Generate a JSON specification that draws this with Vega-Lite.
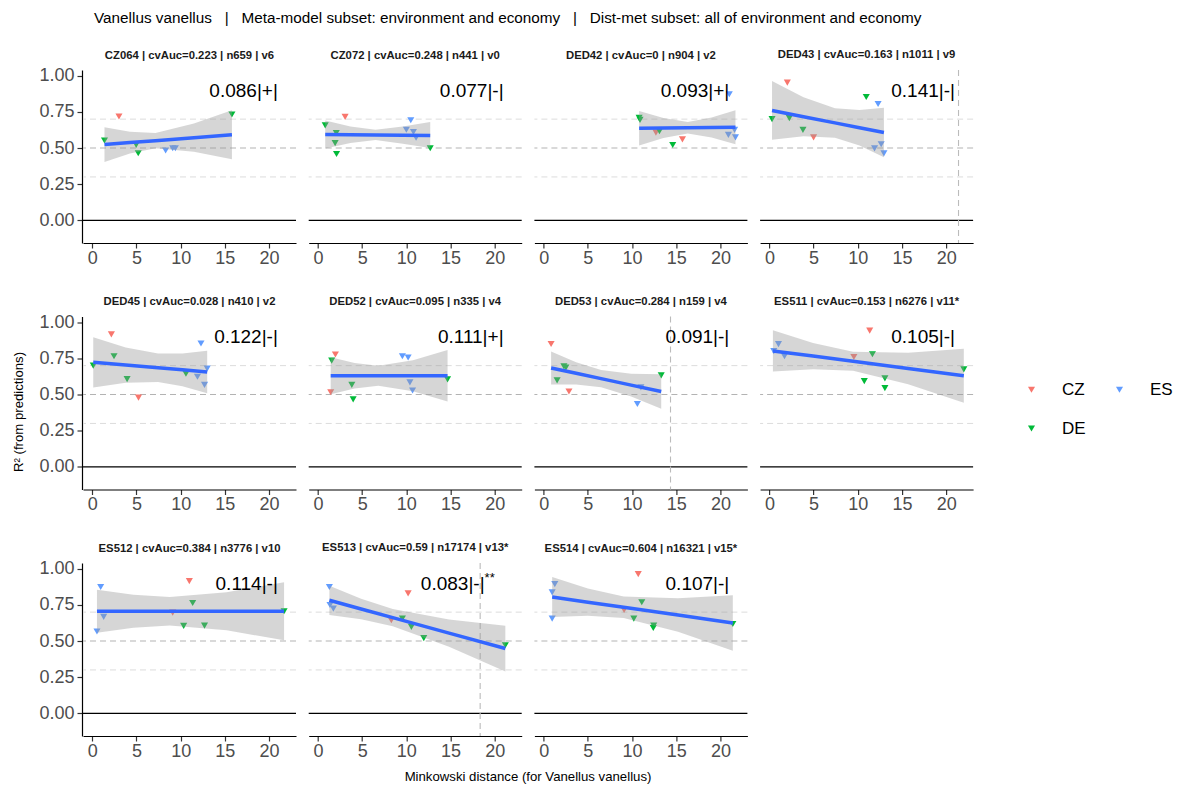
{
 "$schema": "https://vega.github.io/schema/vega-lite/v6.json",
 "padding": {"left": 11, "top": 10, "right": 5, "bottom": 5},
 "title": {"text": "Vanellus vanellus \u00a0\u00a0|\u00a0\u00a0 Meta-model subset: environment and economy \u00a0\u00a0|\u00a0\u00a0 Dist-met subset: all of environment and economy", "anchor": "start", "dx": 83, "fontSize": 15.3, "fontWeight": "normal", "color": "black", "offset": 23},
 "config": {
  "font": "Liberation Sans",
  "view": {"stroke": null},
  "axis": {"grid": false, "domainColor": "black", "domainWidth": 1.2, "tickColor": "#333333", "tickWidth": 1.2, "tickSize": 5, "labelColor": "#4D4D4D", "labelFontSize": 18, "labelFont": "Liberation Sans", "titleFont": "Liberation Sans"},
  "header": {"labelFont": "Liberation Sans", "titleFont": "Liberation Sans"},
  "legend": {"labelFont": "Liberation Sans"},
  "title": {"font": "Liberation Sans"}
 },
 "datasets": {
  "panels": [
   {"id": 1, "p": "CZ064 | cvAuc=0.223 | n659 | v6"},
   {"id": 2, "p": "CZ072 | cvAuc=0.248 | n441 | v0"},
   {"id": 3, "p": "DED42 | cvAuc=0 | n904 | v2"},
   {"id": 4, "p": "DED43 | cvAuc=0.163 | n1011 | v9"},
   {"id": 5, "p": "DED45 | cvAuc=0.028 | n410 | v2"},
   {"id": 6, "p": "DED52 | cvAuc=0.095 | n335 | v4"},
   {"id": 7, "p": "DED53 | cvAuc=0.284 | n159 | v4"},
   {"id": 8, "p": "ES511 | cvAuc=0.153 | n6276 | v11*"},
   {"id": 9, "p": "ES512 | cvAuc=0.384 | n3776 | v10"},
   {"id": 10, "p": "ES513 | cvAuc=0.59 | n17174 | v13*"},
   {"id": 11, "p": "ES514 | cvAuc=0.604 | n16321 | v15*"}
  ],
  "main": [
   {"id": 1, "k": "ann", "t": "0.086|+|"},
   {"id": 2, "k": "ann", "t": "0.077|-|"},
   {"id": 3, "k": "ann", "t": "0.093|+|"},
   {"id": 4, "k": "ann", "t": "0.141|-|", "v": 21.4},
   {"id": 5, "k": "ann", "t": "0.122|-|"},
   {"id": 6, "k": "ann", "t": "0.111|+|"},
   {"id": 7, "k": "ann", "t": "0.091|-|", "v": 14.35},
   {"id": 8, "k": "ann", "t": "0.105|-|"},
   {"id": 9, "k": "ann", "t": "0.114|-|"},
   {"id": 10, "k": "ann", "t": "0.083|-|", "s": "**", "v": 18.35},
   {"id": 11, "k": "ann", "t": "0.107|-|"},

   {"id": 1, "k": "pt", "x": 1.38, "y": 0.552, "c": "DE"},
   {"id": 1, "k": "pt", "x": 3.02, "y": 0.718, "c": "CZ"},
   {"id": 1, "k": "pt", "x": 4.97, "y": 0.522, "c": "DE"},
   {"id": 1, "k": "pt", "x": 5.2, "y": 0.464, "c": "DE"},
   {"id": 1, "k": "pt", "x": 8.3, "y": 0.483, "c": "ES"},
   {"id": 1, "k": "pt", "x": 9.1, "y": 0.499, "c": "ES"},
   {"id": 1, "k": "pt", "x": 9.4, "y": 0.499, "c": "ES"},
   {"id": 1, "k": "pt", "x": 15.8, "y": 0.732, "c": "DE"},

   {"id": 2, "k": "pt", "x": 0.82, "y": 0.657, "c": "DE"},
   {"id": 2, "k": "pt", "x": 3.07, "y": 0.716, "c": "CZ"},
   {"id": 2, "k": "pt", "x": 2.07, "y": 0.604, "c": "DE"},
   {"id": 2, "k": "pt", "x": 1.94, "y": 0.534, "c": "DE"},
   {"id": 2, "k": "pt", "x": 2.1, "y": 0.459, "c": "DE"},
   {"id": 2, "k": "pt", "x": 10.5, "y": 0.692, "c": "ES"},
   {"id": 2, "k": "pt", "x": 10.0, "y": 0.627, "c": "ES"},
   {"id": 2, "k": "pt", "x": 10.8, "y": 0.611, "c": "ES"},
   {"id": 2, "k": "pt", "x": 11.1, "y": 0.571, "c": "ES"},
   {"id": 2, "k": "pt", "x": 12.7, "y": 0.499, "c": "DE"},

   {"id": 3, "k": "pt", "x": 10.8, "y": 0.709, "c": "DE"},
   {"id": 3, "k": "pt", "x": 10.9, "y": 0.695, "c": "DE"},
   {"id": 3, "k": "pt", "x": 12.7, "y": 0.607, "c": "CZ"},
   {"id": 3, "k": "pt", "x": 13.1, "y": 0.616, "c": "DE"},
   {"id": 3, "k": "pt", "x": 14.6, "y": 0.521, "c": "DE"},
   {"id": 3, "k": "pt", "x": 15.7, "y": 0.56, "c": "CZ"},
   {"id": 3, "k": "pt", "x": 21.0, "y": 0.872, "c": "ES"},
   {"id": 3, "k": "pt", "x": 21.6, "y": 0.626, "c": "ES"},
   {"id": 3, "k": "pt", "x": 20.9, "y": 0.591, "c": "ES"},
   {"id": 3, "k": "pt", "x": 21.7, "y": 0.574, "c": "ES"},

   {"id": 4, "k": "pt", "x": 2.03, "y": 0.953, "c": "CZ"},
   {"id": 4, "k": "pt", "x": 0.3, "y": 0.7, "c": "DE"},
   {"id": 4, "k": "pt", "x": 2.26, "y": 0.707, "c": "DE"},
   {"id": 4, "k": "pt", "x": 3.8, "y": 0.626, "c": "DE"},
   {"id": 4, "k": "pt", "x": 5.0, "y": 0.574, "c": "CZ"},
   {"id": 4, "k": "pt", "x": 10.96, "y": 0.853, "c": "DE"},
   {"id": 4, "k": "pt", "x": 12.3, "y": 0.805, "c": "ES"},
   {"id": 4, "k": "pt", "x": 12.65, "y": 0.526, "c": "ES"},
   {"id": 4, "k": "pt", "x": 11.9, "y": 0.498, "c": "ES"},
   {"id": 4, "k": "pt", "x": 12.96, "y": 0.463, "c": "ES"},

   {"id": 5, "k": "pt", "x": 0.11, "y": 0.7, "c": "DE"},
   {"id": 5, "k": "pt", "x": 2.16, "y": 0.916, "c": "CZ"},
   {"id": 5, "k": "pt", "x": 2.46, "y": 0.765, "c": "DE"},
   {"id": 5, "k": "pt", "x": 3.94, "y": 0.607, "c": "DE"},
   {"id": 5, "k": "pt", "x": 5.23, "y": 0.479, "c": "CZ"},
   {"id": 5, "k": "pt", "x": 10.6, "y": 0.644, "c": "DE"},
   {"id": 5, "k": "pt", "x": 11.9, "y": 0.623, "c": "ES"},
   {"id": 5, "k": "pt", "x": 12.3, "y": 0.853, "c": "ES"},
   {"id": 5, "k": "pt", "x": 13.0, "y": 0.679, "c": "ES"},
   {"id": 5, "k": "pt", "x": 12.7, "y": 0.567, "c": "ES"},

   {"id": 6, "k": "pt", "x": 1.97, "y": 0.777, "c": "CZ"},
   {"id": 6, "k": "pt", "x": 1.55, "y": 0.735, "c": "DE"},
   {"id": 6, "k": "pt", "x": 1.44, "y": 0.516, "c": "CZ"},
   {"id": 6, "k": "pt", "x": 3.83, "y": 0.567, "c": "DE"},
   {"id": 6, "k": "pt", "x": 3.98, "y": 0.467, "c": "DE"},
   {"id": 6, "k": "pt", "x": 9.55, "y": 0.765, "c": "ES"},
   {"id": 6, "k": "pt", "x": 10.2, "y": 0.756, "c": "ES"},
   {"id": 6, "k": "pt", "x": 10.4, "y": 0.584, "c": "ES"},
   {"id": 6, "k": "pt", "x": 10.7, "y": 0.528, "c": "ES"},
   {"id": 6, "k": "pt", "x": 14.66, "y": 0.605, "c": "DE"},

   {"id": 7, "k": "pt", "x": 0.84, "y": 0.85, "c": "CZ"},
   {"id": 7, "k": "pt", "x": 2.29, "y": 0.695, "c": "DE"},
   {"id": 7, "k": "pt", "x": 2.51, "y": 0.686, "c": "DE"},
   {"id": 7, "k": "pt", "x": 1.52, "y": 0.598, "c": "DE"},
   {"id": 7, "k": "pt", "x": 2.86, "y": 0.521, "c": "CZ"},
   {"id": 7, "k": "pt", "x": 10.6, "y": 0.435, "c": "ES"},
   {"id": 7, "k": "pt", "x": 11.0, "y": 0.55, "c": "ES"},
   {"id": 7, "k": "pt", "x": 13.3, "y": 0.633, "c": "DE"},

   {"id": 8, "k": "pt", "x": 1.03, "y": 0.849, "c": "ES"},
   {"id": 8, "k": "pt", "x": 0.5, "y": 0.8, "c": "ES"},
   {"id": 8, "k": "pt", "x": 1.71, "y": 0.765, "c": "ES"},
   {"id": 8, "k": "pt", "x": 9.56, "y": 0.76, "c": "CZ"},
   {"id": 8, "k": "pt", "x": 11.35, "y": 0.942, "c": "CZ"},
   {"id": 8, "k": "pt", "x": 11.66, "y": 0.779, "c": "DE"},
   {"id": 8, "k": "pt", "x": 10.74, "y": 0.593, "c": "DE"},
   {"id": 8, "k": "pt", "x": 13.07, "y": 0.612, "c": "DE"},
   {"id": 8, "k": "pt", "x": 13.07, "y": 0.544, "c": "DE"},
   {"id": 8, "k": "pt", "x": 22.0, "y": 0.674, "c": "DE"},

   {"id": 9, "k": "pt", "x": 0.95, "y": 0.874, "c": "ES"},
   {"id": 9, "k": "pt", "x": 1.29, "y": 0.667, "c": "ES"},
   {"id": 9, "k": "pt", "x": 0.53, "y": 0.566, "c": "ES"},
   {"id": 9, "k": "pt", "x": 10.98, "y": 0.915, "c": "CZ"},
   {"id": 9, "k": "pt", "x": 9.1, "y": 0.697, "c": "CZ"},
   {"id": 9, "k": "pt", "x": 11.36, "y": 0.763, "c": "DE"},
   {"id": 9, "k": "pt", "x": 10.34, "y": 0.605, "c": "DE"},
   {"id": 9, "k": "pt", "x": 12.7, "y": 0.607, "c": "DE"},
   {"id": 9, "k": "pt", "x": 21.7, "y": 0.706, "c": "DE"},

   {"id": 10, "k": "pt", "x": 1.29, "y": 0.874, "c": "ES"},
   {"id": 10, "k": "pt", "x": 1.36, "y": 0.749, "c": "ES"},
   {"id": 10, "k": "pt", "x": 1.74, "y": 0.724, "c": "ES"},
   {"id": 10, "k": "pt", "x": 10.2, "y": 0.83, "c": "CZ"},
   {"id": 10, "k": "pt", "x": 8.3, "y": 0.644, "c": "CZ"},
   {"id": 10, "k": "pt", "x": 9.55, "y": 0.656, "c": "DE"},
   {"id": 10, "k": "pt", "x": 10.57, "y": 0.598, "c": "DE"},
   {"id": 10, "k": "pt", "x": 11.97, "y": 0.52, "c": "DE"},
   {"id": 10, "k": "pt", "x": 21.2, "y": 0.471, "c": "DE"},

   {"id": 11, "k": "pt", "x": 1.26, "y": 0.894, "c": "ES"},
   {"id": 11, "k": "pt", "x": 0.96, "y": 0.837, "c": "ES"},
   {"id": 11, "k": "pt", "x": 0.96, "y": 0.655, "c": "ES"},
   {"id": 11, "k": "pt", "x": 10.7, "y": 0.963, "c": "CZ"},
   {"id": 11, "k": "pt", "x": 9.1, "y": 0.715, "c": "CZ"},
   {"id": 11, "k": "pt", "x": 11.1, "y": 0.768, "c": "DE"},
   {"id": 11, "k": "pt", "x": 10.2, "y": 0.655, "c": "DE"},
   {"id": 11, "k": "pt", "x": 12.45, "y": 0.607, "c": "DE"},
   {"id": 11, "k": "pt", "x": 12.4, "y": 0.59, "c": "DE"},
   {"id": 11, "k": "pt", "x": 21.4, "y": 0.618, "c": "DE"},

   {"id": 1, "k": "band", "x": 1.38, "lo": 0.404, "fit": 0.524, "hi": 0.644},
   {"id": 1, "k": "band", "x": 4.26, "lo": 0.463, "fit": 0.538, "hi": 0.613},
   {"id": 1, "k": "band", "x": 7.15, "lo": 0.498, "fit": 0.551, "hi": 0.604},
   {"id": 1, "k": "band", "x": 11.5, "lo": 0.475, "fit": 0.572, "hi": 0.669},
   {"id": 1, "k": "band", "x": 15.8, "lo": 0.422, "fit": 0.592, "hi": 0.762},

   {"id": 2, "k": "band", "x": 0.82, "lo": 0.497, "fit": 0.594, "hi": 0.691},
   {"id": 2, "k": "band", "x": 3.67, "lo": 0.535, "fit": 0.592, "hi": 0.649},
   {"id": 2, "k": "band", "x": 6.51, "lo": 0.556, "fit": 0.591, "hi": 0.626},
   {"id": 2, "k": "band", "x": 9.6, "lo": 0.529, "fit": 0.589, "hi": 0.649},
   {"id": 2, "k": "band", "x": 12.7, "lo": 0.5, "fit": 0.587, "hi": 0.68},

   {"id": 3, "k": "band", "x": 10.8, "lo": 0.517, "fit": 0.637, "hi": 0.757},
   {"id": 3, "k": "band", "x": 13.55, "lo": 0.57, "fit": 0.639, "hi": 0.708},
   {"id": 3, "k": "band", "x": 16.3, "lo": 0.6, "fit": 0.64, "hi": 0.68},
   {"id": 3, "k": "band", "x": 19.0, "lo": 0.573, "fit": 0.642, "hi": 0.711},
   {"id": 3, "k": "band", "x": 21.7, "lo": 0.526, "fit": 0.644, "hi": 0.762},

   {"id": 4, "k": "band", "x": 0.3, "lo": 0.557, "fit": 0.76, "hi": 0.964},
   {"id": 4, "k": "band", "x": 3.86, "lo": 0.582, "fit": 0.717, "hi": 0.852},
   {"id": 4, "k": "band", "x": 7.42, "lo": 0.572, "fit": 0.674, "hi": 0.776},
   {"id": 4, "k": "band", "x": 10.2, "lo": 0.517, "fit": 0.64, "hi": 0.763},
   {"id": 4, "k": "band", "x": 12.96, "lo": 0.436, "fit": 0.607, "hi": 0.778},

   {"id": 5, "k": "band", "x": 0.11, "lo": 0.549, "fit": 0.723, "hi": 0.897},
   {"id": 5, "k": "band", "x": 3.78, "lo": 0.582, "fit": 0.704, "hi": 0.826},
   {"id": 5, "k": "band", "x": 7.44, "lo": 0.586, "fit": 0.685, "hi": 0.784},
   {"id": 5, "k": "band", "x": 10.2, "lo": 0.558, "fit": 0.671, "hi": 0.784},
   {"id": 5, "k": "band", "x": 13.0, "lo": 0.509, "fit": 0.656, "hi": 0.803},

   {"id": 6, "k": "band", "x": 1.44, "lo": 0.502, "fit": 0.63, "hi": 0.758},
   {"id": 6, "k": "band", "x": 4.14, "lo": 0.542, "fit": 0.63, "hi": 0.718},
   {"id": 6, "k": "band", "x": 6.83, "lo": 0.56, "fit": 0.63, "hi": 0.7},
   {"id": 6, "k": "band", "x": 10.75, "lo": 0.522, "fit": 0.63, "hi": 0.738},
   {"id": 6, "k": "band", "x": 14.66, "lo": 0.452, "fit": 0.63, "hi": 0.808},

   {"id": 7, "k": "band", "x": 0.84, "lo": 0.57, "fit": 0.684, "hi": 0.798},
   {"id": 7, "k": "band", "x": 3.67, "lo": 0.57, "fit": 0.647, "hi": 0.724},
   {"id": 7, "k": "band", "x": 6.5, "lo": 0.55, "fit": 0.61, "hi": 0.67},
   {"id": 7, "k": "band", "x": 9.9, "lo": 0.486, "fit": 0.565, "hi": 0.644},
   {"id": 7, "k": "band", "x": 13.3, "lo": 0.401, "fit": 0.521, "hi": 0.641},

   {"id": 8, "k": "band", "x": 0.4, "lo": 0.659, "fit": 0.802, "hi": 0.945},
   {"id": 8, "k": "band", "x": 4.94, "lo": 0.675, "fit": 0.766, "hi": 0.857},
   {"id": 8, "k": "band", "x": 9.47, "lo": 0.664, "fit": 0.73, "hi": 0.796},
   {"id": 8, "k": "band", "x": 15.7, "lo": 0.571, "fit": 0.68, "hi": 0.789},
   {"id": 8, "k": "band", "x": 22.0, "lo": 0.443, "fit": 0.63, "hi": 0.817},

   {"id": 9, "k": "band", "x": 0.53, "lo": 0.557, "fit": 0.706, "hi": 0.855},
   {"id": 9, "k": "band", "x": 4.65, "lo": 0.592, "fit": 0.706, "hi": 0.82},
   {"id": 9, "k": "band", "x": 8.77, "lo": 0.607, "fit": 0.706, "hi": 0.805},
   {"id": 9, "k": "band", "x": 15.2, "lo": 0.574, "fit": 0.706, "hi": 0.838},
   {"id": 9, "k": "band", "x": 21.7, "lo": 0.505, "fit": 0.706, "hi": 0.907},

   {"id": 10, "k": "band", "x": 1.29, "lo": 0.681, "fit": 0.782, "hi": 0.883},
   {"id": 10, "k": "band", "x": 4.88, "lo": 0.65, "fit": 0.722, "hi": 0.793},
   {"id": 10, "k": "band", "x": 8.46, "lo": 0.603, "fit": 0.662, "hi": 0.721},
   {"id": 10, "k": "band", "x": 14.83, "lo": 0.461, "fit": 0.555, "hi": 0.649},
   {"id": 10, "k": "band", "x": 21.2, "lo": 0.29, "fit": 0.448, "hi": 0.606},

   {"id": 11, "k": "band", "x": 0.96, "lo": 0.667, "fit": 0.805, "hi": 0.943},
   {"id": 11, "k": "band", "x": 5.0, "lo": 0.675, "fit": 0.769, "hi": 0.864},
   {"id": 11, "k": "band", "x": 9.05, "lo": 0.659, "fit": 0.734, "hi": 0.809},
   {"id": 11, "k": "band", "x": 15.2, "lo": 0.564, "fit": 0.68, "hi": 0.796},
   {"id": 11, "k": "band", "x": 21.4, "lo": 0.433, "fit": 0.625, "hi": 0.817}
  ]
 },
 "spacing": 9,
 "hconcat": [
  {
   "width": 1,
   "height": 683,
   "data": {"values": [{"d": 0}]},
   "mark": {"type": "point", "opacity": 0},
   "encoding": {
    "y": {"field": "d", "type": "quantitative", "axis": {"title": "R\u00b2 (from predictions)", "labels": false, "ticks": false, "domain": false, "grid": false, "titleFontSize": 13.2, "titleFontWeight": "normal", "titleColor": "black", "titlePadding": 0}}
   }
  },
  {
   "data": {"name": "main"},
   "transform": [{"lookup": "id", "from": {"data": {"name": "panels"}, "key": "id", "fields": ["p"]}}],
   "facet": {"field": "p", "type": "nominal", "header": {"title": "Minkowski distance (for Vanellus vanellus)", "titleOrient": "bottom", "titleFontSize": 13.2, "titleFontWeight": "normal", "titleColor": "black", "titlePadding": 11, "labelOrient": "top", "labelFontSize": 11.3, "labelFontWeight": "bold", "labelColor": "#1A1A1A", "labelPadding": 9}},
   "columns": 4,
   "spacing": {"row": 28.5, "column": 10.7},
   "resolve": {"axis": {"x": "independent"}},
   "spec": {
    "width": 213,
    "height": 173,
    "layer": [
     {
      "transform": [{"filter": "datum.k === 'ann'"}],
      "mark": {"type": "rule", "color": "#DCDCDC", "strokeDash": [6, 4], "strokeWidth": 1},
      "encoding": {"y": {"datum": 0.3, "type": "quantitative", "scale": {"domain": [-0.157, 1.04], "nice": false, "zero": false}, "axis": {"values": [0, 0.25, 0.5, 0.75, 1], "format": ".2f", "title": null, "labelPadding": 3}}}
     },
     {
      "transform": [{"filter": "datum.k === 'ann'"}],
      "mark": {"type": "rule", "color": "#DCDCDC", "strokeDash": [6, 4], "strokeWidth": 1},
      "encoding": {"y": {"datum": 0.7, "type": "quantitative", "scale": {"domain": [-0.157, 1.04], "nice": false, "zero": false}, "axis": {"values": [0, 0.25, 0.5, 0.75, 1], "format": ".2f", "title": null, "labelPadding": 3}}}
     },
     {
      "transform": [{"filter": "datum.k === 'ann'"}],
      "mark": {"type": "rule", "color": "#B3B3B3", "strokeDash": [6, 4], "strokeWidth": 1.1},
      "encoding": {"y": {"datum": 0.5, "type": "quantitative", "scale": {"domain": [-0.157, 1.04], "nice": false, "zero": false}, "axis": {"values": [0, 0.25, 0.5, 0.75, 1], "format": ".2f", "title": null, "labelPadding": 3}}}
     },
     {
      "transform": [{"filter": "datum.k === 'ann'"}],
      "mark": {"type": "rule", "color": "black", "strokeWidth": 1.3},
      "encoding": {"y": {"datum": 0, "type": "quantitative", "scale": {"domain": [-0.157, 1.04], "nice": false, "zero": false}, "axis": {"values": [0, 0.25, 0.5, 0.75, 1], "format": ".2f", "title": null, "labelPadding": 3}}}
     },
     {
      "transform": [{"filter": "datum.k === 'ann' && isValid(datum.v)"}],
      "mark": {"type": "rule", "color": "#BBBBBB", "strokeDash": [6, 4], "strokeWidth": 1.1},
      "encoding": {"x": {"field": "v", "type": "quantitative", "scale": {"domain": [-1.05, 23.05], "nice": false, "zero": false}, "axis": {"values": [0, 5, 10, 15, 20], "title": null, "labelPadding": 1}}}
     },
     {
      "transform": [{"filter": "datum.k === 'pt'"}],
      "mark": {"type": "point", "shape": "triangle-down", "filled": true, "size": 50, "opacity": 1},
      "encoding": {
       "x": {"field": "x", "type": "quantitative", "scale": {"domain": [-1.05, 23.05], "nice": false, "zero": false}, "axis": {"values": [0, 5, 10, 15, 20], "title": null, "labelPadding": 1}},
       "y": {"field": "y", "type": "quantitative", "scale": {"domain": [-0.157, 1.04], "nice": false, "zero": false}, "axis": {"values": [0, 0.25, 0.5, 0.75, 1], "format": ".2f", "title": null, "labelPadding": 3}},
       "color": {"field": "c", "type": "nominal", "scale": {"domain": ["CZ", "DE", "ES"], "range": ["#F8766D", "#00BA38", "#619CFF"]}, "legend": {"title": null, "orient": "none", "legendX": 998, "legendY": 311, "columns": 2, "symbolType": "triangle-down", "symbolSize": 50, "labelFontSize": 17, "labelColor": "black", "labelOffset": 22, "columnPadding": 25, "rowPadding": 21}}
      }
     },
     {
      "transform": [{"filter": "datum.k === 'band'"}],
      "mark": {"type": "area", "color": "#999999", "opacity": 0.4},
      "encoding": {
       "x": {"field": "x", "type": "quantitative", "scale": {"domain": [-1.05, 23.05], "nice": false, "zero": false}, "axis": {"values": [0, 5, 10, 15, 20], "title": null, "labelPadding": 1}},
       "y": {"field": "lo", "type": "quantitative", "scale": {"domain": [-0.157, 1.04], "nice": false, "zero": false}, "axis": {"values": [0, 0.25, 0.5, 0.75, 1], "format": ".2f", "title": null, "labelPadding": 3}},
       "y2": {"field": "hi"}
      }
     },
     {
      "transform": [{"filter": "datum.k === 'band'"}],
      "mark": {"type": "line", "color": "#3366FF", "strokeWidth": 3.5},
      "encoding": {
       "x": {"field": "x", "type": "quantitative", "scale": {"domain": [-1.05, 23.05], "nice": false, "zero": false}, "axis": {"values": [0, 5, 10, 15, 20], "title": null, "labelPadding": 1}},
       "y": {"field": "fit", "type": "quantitative", "scale": {"domain": [-0.157, 1.04], "nice": false, "zero": false}, "axis": {"values": [0, 0.25, 0.5, 0.75, 1], "format": ".2f", "title": null, "labelPadding": 3}}
      }
     },
     {
      "transform": [{"filter": "datum.k === 'ann' && !isValid(datum.s)"}],
      "mark": {"type": "text", "align": "right", "baseline": "middle", "fontSize": 19, "color": "black"},
      "encoding": {
       "x": {"datum": 21, "type": "quantitative", "scale": {"domain": [-1.05, 23.05], "nice": false, "zero": false}, "axis": {"values": [0, 5, 10, 15, 20], "title": null, "labelPadding": 1}},
       "y": {"datum": 0.895, "type": "quantitative", "scale": {"domain": [-0.157, 1.04], "nice": false, "zero": false}, "axis": {"values": [0, 0.25, 0.5, 0.75, 1], "format": ".2f", "title": null, "labelPadding": 3}},
       "text": {"field": "t"}
      }
     },
     {
      "transform": [{"filter": "datum.k === 'ann' && isValid(datum.s)"}],
      "mark": {"type": "text", "align": "right", "baseline": "middle", "fontSize": 19, "color": "black", "dx": -19},
      "encoding": {
       "x": {"datum": 21, "type": "quantitative", "scale": {"domain": [-1.05, 23.05], "nice": false, "zero": false}, "axis": {"values": [0, 5, 10, 15, 20], "title": null, "labelPadding": 1}},
       "y": {"datum": 0.895, "type": "quantitative", "scale": {"domain": [-0.157, 1.04], "nice": false, "zero": false}, "axis": {"values": [0, 0.25, 0.5, 0.75, 1], "format": ".2f", "title": null, "labelPadding": 3}},
       "text": {"field": "t"}
      }
     },
     {
      "transform": [{"filter": "datum.k === 'ann' && isValid(datum.s)"}],
      "mark": {"type": "text", "align": "left", "baseline": "middle", "fontSize": 13, "color": "black", "dx": -19, "dy": -6},
      "encoding": {
       "x": {"datum": 21, "type": "quantitative", "scale": {"domain": [-1.05, 23.05], "nice": false, "zero": false}, "axis": {"values": [0, 5, 10, 15, 20], "title": null, "labelPadding": 1}},
       "y": {"datum": 0.895, "type": "quantitative", "scale": {"domain": [-0.157, 1.04], "nice": false, "zero": false}, "axis": {"values": [0, 0.25, 0.5, 0.75, 1], "format": ".2f", "title": null, "labelPadding": 3}},
       "text": {"field": "s"}
      }
     }
    ]
   }
  }
 ]
}
